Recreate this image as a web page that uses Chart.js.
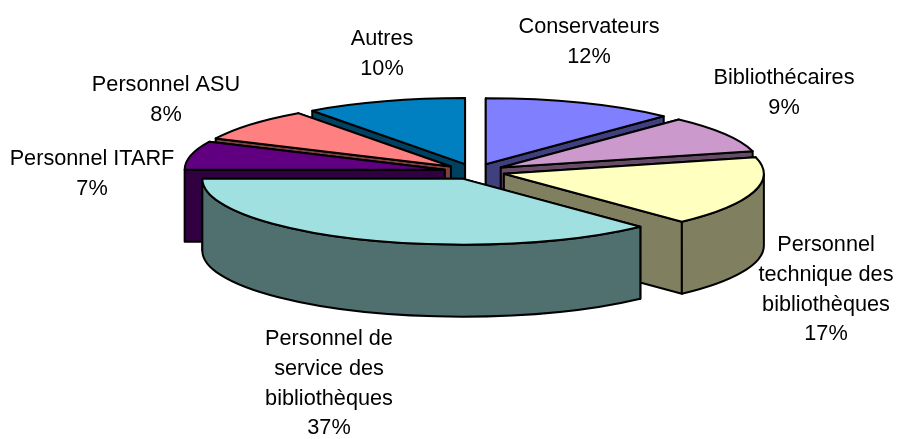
<!DOCTYPE html>
<html>
<head>
<meta charset="utf-8">
<style>
html,body{margin:0;padding:0;background:#fff;overflow:hidden}
#wrap{position:relative;width:898px;height:439px}
</style>
<script src="https://cdn.jsdelivr.net/npm/chart.js@4"></script>
</head>
<body>
<div id="wrap"><canvas id="c" width="898" height="439"></canvas></div>
<script>
const categories = ["Conservateurs","Bibliothécaires","Personnel technique des bibliothèques","Personnel de service des bibliothèques","Personnel ITARF","Personnel ASU","Autres"];
const values = [12,9,17,37,7,8,10];
const labelLines = [["Conservateurs"],["Bibliothécaires"],["Personnel","technique des","bibliothèques"],["Personnel de","service des","bibliothèques"],["Personnel ITARF"],["Personnel ASU"],["Autres"]];
const topColors = ["#8080FF","#CC99CC","#FFFFC0","#A0E0E0","#600080","#FF8080","#0080C0"];
const wallColors = ["#40407F","#664C66","#808060","#507070","#300040","#804040","#004060"];
const labelCenters = [[589,27],[784,78],[826,245],[329,339],[92,159],[166,85],[382,39]];
const labelLineHeight = 29.8;

const tiltPie = {
  id:'tiltPie',
  beforeDatasetDraw(chart,args,opts){
    const arcs = chart.getDatasetMeta(0).data;
    const R = arcs[0].outerRadius;
    const sx = opts.rx/R, sy = opts.ry/R, h = opts.depth;
    const ctx = chart.ctx;
    const order = arcs.map((a,i)=>i).sort((p,q)=>{
      const m=a=>(a.startAngle+a.endAngle)/2;
      return Math.sin(m(arcs[p]))-Math.sin(m(arcs[q]));
    });
    ctx.save();
    ctx.lineWidth = opts.lineWidth;
    ctx.strokeStyle = '#000';
    ctx.lineJoin = 'round';
    for(const i of order){
      const a = arcs[i], mid=(a.startAngle+a.endAngle)/2;
      const off = a.options.offset;
      const cx = a.x + (off*Math.cos(mid))*sx;
      const cy = a.y + (off*Math.sin(mid))*sy;
      const rx = a.outerRadius*sx, ry = a.outerRadius*sy;
      const P = t=>[cx+rx*Math.cos(t), cy+ry*Math.sin(t)];
      ctx.fillStyle = wallColors[i];
      const radial = [a.startAngle,a.endAngle].sort((u,v)=>Math.sin(u)-Math.sin(v));
      for(const t of radial){
        const p=P(t);
        ctx.beginPath();
        ctx.moveTo(cx,cy);ctx.lineTo(p[0],p[1]);ctx.lineTo(p[0],p[1]+h);ctx.lineTo(cx,cy+h);ctx.closePath();
        ctx.fill();ctx.stroke();
      }
      const s=Math.max(a.startAngle,0), e=Math.min(a.endAngle,Math.PI);
      if(e>s){
        ctx.beginPath();
        ctx.ellipse(cx,cy,rx,ry,0,s,e);
        ctx.ellipse(cx,cy+h,rx,ry,0,e,s,true);
        ctx.closePath();
        ctx.fill();ctx.stroke();
      }
      ctx.fillStyle = topColors[i];
      ctx.beginPath();
      ctx.moveTo(cx,cy);
      ctx.ellipse(cx,cy,rx,ry,0,a.startAngle,a.endAngle);
      ctx.closePath();
      ctx.fill();ctx.stroke();
    }
    ctx.restore();
    return false;
  },
  afterDraw(chart,args,opts){
    const ctx=chart.ctx;
    ctx.save();
    ctx.fillStyle='#000';
    ctx.font=opts.font;
    ctx.textAlign='center';
    ctx.textBaseline='middle';
    labelLines.forEach((lines,i)=>{
      const [x,y]=labelCenters[i];
      lines.concat(values[i]+'%').forEach((t,k)=>ctx.fillText(t,x,y+k*labelLineHeight));
    });
    ctx.restore();
  }
};

new Chart(document.getElementById('c'),{
  type:'pie',
  data:{labels:categories,datasets:[{data:values,backgroundColor:topColors,borderColor:'#000',borderWidth:1,offset:19,hoverOffset:0}]},
  options:{
    responsive:false,animation:false,
    layout:{padding:{left:51,bottom:96}},
    plugins:{
      legend:{display:false},tooltip:{enabled:false},
      tiltPie:{rx:260,ry:66,depth:72,lineWidth:2,font:'21.7px "Liberation Sans", Arial, sans-serif'}
    }
  },
  plugins:[tiltPie]
});
</script>
</body>
</html>
